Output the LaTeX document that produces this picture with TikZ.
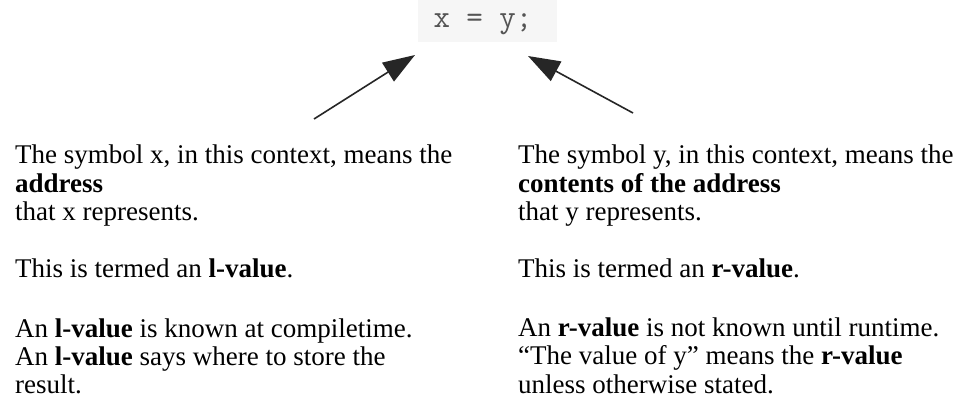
\documentclass[tikz,border=0pt]{standalone}
\usepackage{fontspec}
\setmainfont{Liberation Serif}
\usetikzlibrary{arrows.meta}
\definecolor{codegray}{rgb}{0.33,0.33,0.33}
\definecolor{boxgray}{rgb}{0.965,0.965,0.965}
\begin{document}
\begin{tikzpicture}[x=1pt,y=-1pt,
  txt/.style={anchor=base west,inner sep=0pt,font=\fontsize{27}{28}\selectfont},
  code/.style={inner sep=0pt,font=\ttfamily\fontsize{32}{32}\selectfont,text=codegray},
  ptr/.style={line width=1.6pt,draw=black!85,-{Triangle[length=32pt,width=22pt]}}]
\useasboundingbox[fill=white] (0,0) rectangle (961,402);
\fill[boxgray] (418,0) rectangle (557,42);
\node[code,anchor=base] (code) at (483,27) {x = y;};
\coordinate (ltip) at (415,55);
\coordinate (ltail) at (314,119);
\coordinate (rtip) at (528,56);
\coordinate (rtail) at (633,113);
\draw[ptr] (ltail) -- (ltip);
\draw[ptr] (rtail) -- (rtip);
% left column
\node[txt] (l1) at (15,163) {The symbol x, in this context, means the};
\node[txt] (l2) at (15,192) {\textbf{address}};
\node[txt] (l3) at (15,220) {that x represents.};
\node[txt] (l4) at (15,277) {This is termed an \textbf{l-value}.};
\node[txt] (l5) at (15,337) {An \textbf{l-value} is known at compiletime.};
\node[txt] (l6) at (15,365) {An \textbf{l-value} says where to store the};
\node[txt] (l7) at (15,393) {result.};
% right column
\node[txt] (r1) at (518,163) {The symbol y, in this context, means the};
\node[txt] (r2) at (518,192) {\textbf{contents of the address}};
\node[txt] (r3) at (518,220) {that y represents.};
\node[txt] (r4) at (518,277) {This is termed an \textbf{r-value}.};
\node[txt] (r5) at (518,336) {An \textbf{r-value} is not known until runtime.};
\node[txt] (r6) at (518,364) {“The value of y” means the \textbf{r-value}};
\node[txt] (r7) at (518,393) {unless otherwise stated.};
\end{tikzpicture}
\end{document}
